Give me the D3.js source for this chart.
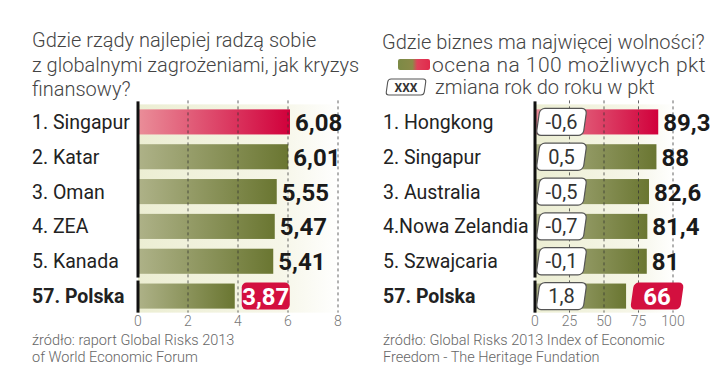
<!DOCTYPE html>
<html><head><meta charset="utf-8">
<script src="https://cdn.jsdelivr.net/npm/d3@7"></script>
<style>body{margin:0;background:#fff}svg{display:block}text{font-family:Roboto,"Noto Sans",sans-serif}</style>
</head><body><svg id="c" width="720" height="390"></svg>
<script>
// ---- data ----
const leftTitle = ["Gdzie rządy najlepiej radzą sobie", "z globalnymi zagrożeniami, jak kryzys", "finansowy?"];
const leftCategories = ["1. Singapur", "2. Katar", "3. Oman", "4. ZEA", "5. Kanada", "57. Polska"];
const leftValues = [6.08, 6.01, 5.55, 5.47, 5.41, 3.87];
const leftTicks = [0, 2, 4, 6, 8];
const leftSource = ["źródło: raport Global Risks 2013", "of World Economic Forum"];

const rightTitle = "Gdzie biznes ma najwięcej wolności?";
const rightLegend = ["ocena na 100 możliwych pkt", "zmiana rok do roku w pkt"];
const rightCategories = ["1. Hongkong", "2. Singapur", "3. Australia", "4.Nowa Zelandia", "5. Szwajcaria", "57. Polska"];
const rightValues = [89.3, 88, 82.6, 81.4, 81, 66];
const rightChanges = [-0.6, 0.5, -0.5, -0.7, -0.1, 1.8];
const rightTicks = [0, 25, 50, 75, 100];
const rightSource = ["źródło: Global Risks 2013 Index of Economic", "Freedom - The Heritage Fundation"];

// ---- drawing ----
const pl = v => String(v).replace(".", ",");
const svg = d3.select("#c");
const defs = svg.append("defs");
function grad(id, stops) {
  const g = defs.append("linearGradient").attr("id", id);
  stops.forEach(([o, c]) => g.append("stop").attr("offset", o).attr("stop-color", c));
}
grad("olive", [["0%", "#aeb288"], ["100%", "#6a7631"]]);
grad("red", [["0%", "#ea8e99"], ["100%", "#d1003b"]]);
grad("track", [["0%", "#eceed3"], ["70%", "#f6f6e8"], ["100%", "#ffffff"]]);
grad("legend", [["0%", "#7c8a46"], ["45%", "#8a8a48"], ["60%", "#e0405a"], ["100%", "#e02a4c"]]);

const y = d3.scaleBand().domain(d3.range(6)).range([104.5, 313.5]).paddingInner(0.28).paddingOuter(0.14);
const bw = y.bandwidth();
const cy = i => y(i) + bw / 2;

function panel(o) {
  const x = d3.scaleLinear().domain(o.domain).range(o.range);
  const g = svg.append("g");
  const top = y(0) - 5, bottom = y(5) + bw + 4;
  // track background
  g.append("rect").attr("x", x(0)).attr("y", top).attr("width", x(o.domain[1]) - x(0) + 2)
    .attr("height", bottom - top).attr("fill", "url(#track)");
  // bars
  g.selectAll("rect.bar").data(o.values).join("rect").attr("class", "bar")
    .attr("x", x(0)).attr("y", (d, i) => y(i)).attr("height", bw)
    .attr("width", d => x(d) - x(0))
    .attr("fill", (d, i) => i === 0 ? "url(#red)" : "url(#olive)");
  // gridlines
  g.selectAll("line.grid").data(o.ticks.filter(t => t > 0)).join("line").attr("class", "grid")
    .attr("x1", d => x(d)).attr("x2", d => x(d)).attr("y1", top - 4).attr("y2", bottom)
    .attr("stroke", "#333").attr("stroke-width", 1).attr("stroke-dasharray", "3,3").attr("opacity", 0.75);
  // axis line (split before last row)
  const brk = y(5) - 4;
  g.append("line").attr("x1", x(0)).attr("x2", x(0)).attr("y1", top - 3).attr("y2", brk - 2)
    .attr("stroke", "#111").attr("stroke-width", 3);
  g.append("line").attr("x1", x(0)).attr("x2", x(0)).attr("y1", brk + 1).attr("y2", bottom)
    .attr("stroke", "#111").attr("stroke-width", 3);
  // tick labels
  g.selectAll("text.tick").data(o.ticks).join("text").attr("class", "tick")
    .attr("x", d => x(d)).attr("y", 326).attr("text-anchor", "middle")
    .attr("font-size", 14).attr("font-weight", 300).attr("fill", "#777").text(d => d);
  // category labels
  g.selectAll("text.cat").data(o.cats).join("text").attr("class", "cat")
    .attr("x", o.labelX).attr("y", (d, i) => cy(i) + 7)
    .attr("font-size", 19.5).attr("font-weight", (d, i) => i === 5 ? 700 : 400)
    .attr("fill", "#222").text(d => d);
  // change boxes
  if (o.changes) {
    const cg = g.selectAll("g.chg").data(o.changes).join("g").attr("class", "chg")
      .attr("transform", (d, i) => `translate(${x(0) + 26.5},${cy(i)})`);
    cg.append("rect").attr("x", -23.5).attr("y", -bw / 2 - 1).attr("width", 47).attr("height", bw + 2)
      .attr("rx", 5).attr("fill", "#fff").attr("stroke", "#555").attr("stroke-width", 1.2)
      .attr("transform", "skewX(-8)");
    cg.append("text").attr("x", 0).attr("y", 7).attr("text-anchor", "middle")
      .attr("font-size", 20).attr("fill", "#333").text(d => pl(d));
  }
  // value labels (first five)
  g.selectAll("text.val").data(o.values.slice(0, 5)).join("text").attr("class", "val")
    .attr("x", d => x(d) + 5).attr("y", (d, i) => cy(i) + 9)
    .attr("font-size", 24).attr("font-weight", 700).attr("fill", "#1a1a1a").text(d => pl(d));
  // highlighted value for Polska
  const v5 = o.values[5];
  const hb = g.append("g").attr("transform", `translate(${x(v5) + o.boxGap + o.boxW / 2},${cy(5)})`);
  hb.append("rect").attr("x", -o.boxW / 2).attr("y", -bw / 2 - 1).attr("width", o.boxW).attr("height", bw + 2)
    .attr("rx", 5).attr("fill", "#d3103f").attr("transform", `skewX(${o.boxSkew})`);
  hb.append("text").attr("x", 0).attr("y", 9).attr("text-anchor", "middle")
    .attr("font-size", 24).attr("font-weight", 700).attr("fill", "#fff").text(pl(v5));
  // sources
  g.selectAll("text.src").data(o.source).join("text").attr("class", "src")
    .attr("x", o.labelX).attr("y", (d, i) => 345 + i * 17)
    .attr("font-size", 14.5).attr("font-weight", 300).attr("fill", "#666").text(d => d);
}

panel({cats: leftCategories, values: leftValues, ticks: leftTicks, domain: [0, 8], range: [138, 338],
  labelX: 32, source: leftSource, boxGap: 7, boxW: 48, boxSkew: 0});
panel({cats: rightCategories, values: rightValues, ticks: rightTicks, domain: [0, 100], range: [535, 673],
  labelX: 383, source: rightSource, changes: rightChanges, boxGap: 6, boxW: 50, boxSkew: -8});

// titles
svg.selectAll("text.lt").data(leftTitle).join("text").attr("class", "lt")
  .attr("x", 32).attr("y", (d, i) => 47 + i * 24.5)
  .attr("font-size", 20).attr("font-weight", 300).attr("fill", "#444").text(d => d);
svg.append("text").attr("x", 382).attr("y", 49)
  .attr("font-size", 20).attr("font-weight", 300).attr("fill", "#444").text(rightTitle);
// legend
svg.append("rect").attr("x", 398).attr("y", 59).attr("width", 32).attr("height", 11).attr("rx", 2)
  .attr("fill", "url(#legend)");
svg.append("text").attr("x", 432).attr("y", 72).attr("font-size", 21).attr("font-weight", 300)
  .attr("letter-spacing", 0.5).attr("fill", "#444").text(rightLegend[0]);
const lg = svg.append("g").attr("transform", "translate(406,87)");
lg.append("rect").attr("x", -19).attr("y", -8).attr("width", 38).attr("height", 16).attr("rx", 3)
  .attr("fill", "#fff").attr("stroke", "#555").attr("stroke-width", 1.1).attr("transform", "skewX(-8)");
lg.append("text").attr("x", 0).attr("y", 4.5).attr("text-anchor", "middle").attr("font-size", 12)
  .attr("font-weight", 700).attr("fill", "#333").text("XXX");
svg.append("text").attr("x", 435).attr("y", 94).attr("font-size", 20).attr("font-weight", 300)
  .attr("fill", "#444").text(rightLegend[1]);
</script></body></html>
